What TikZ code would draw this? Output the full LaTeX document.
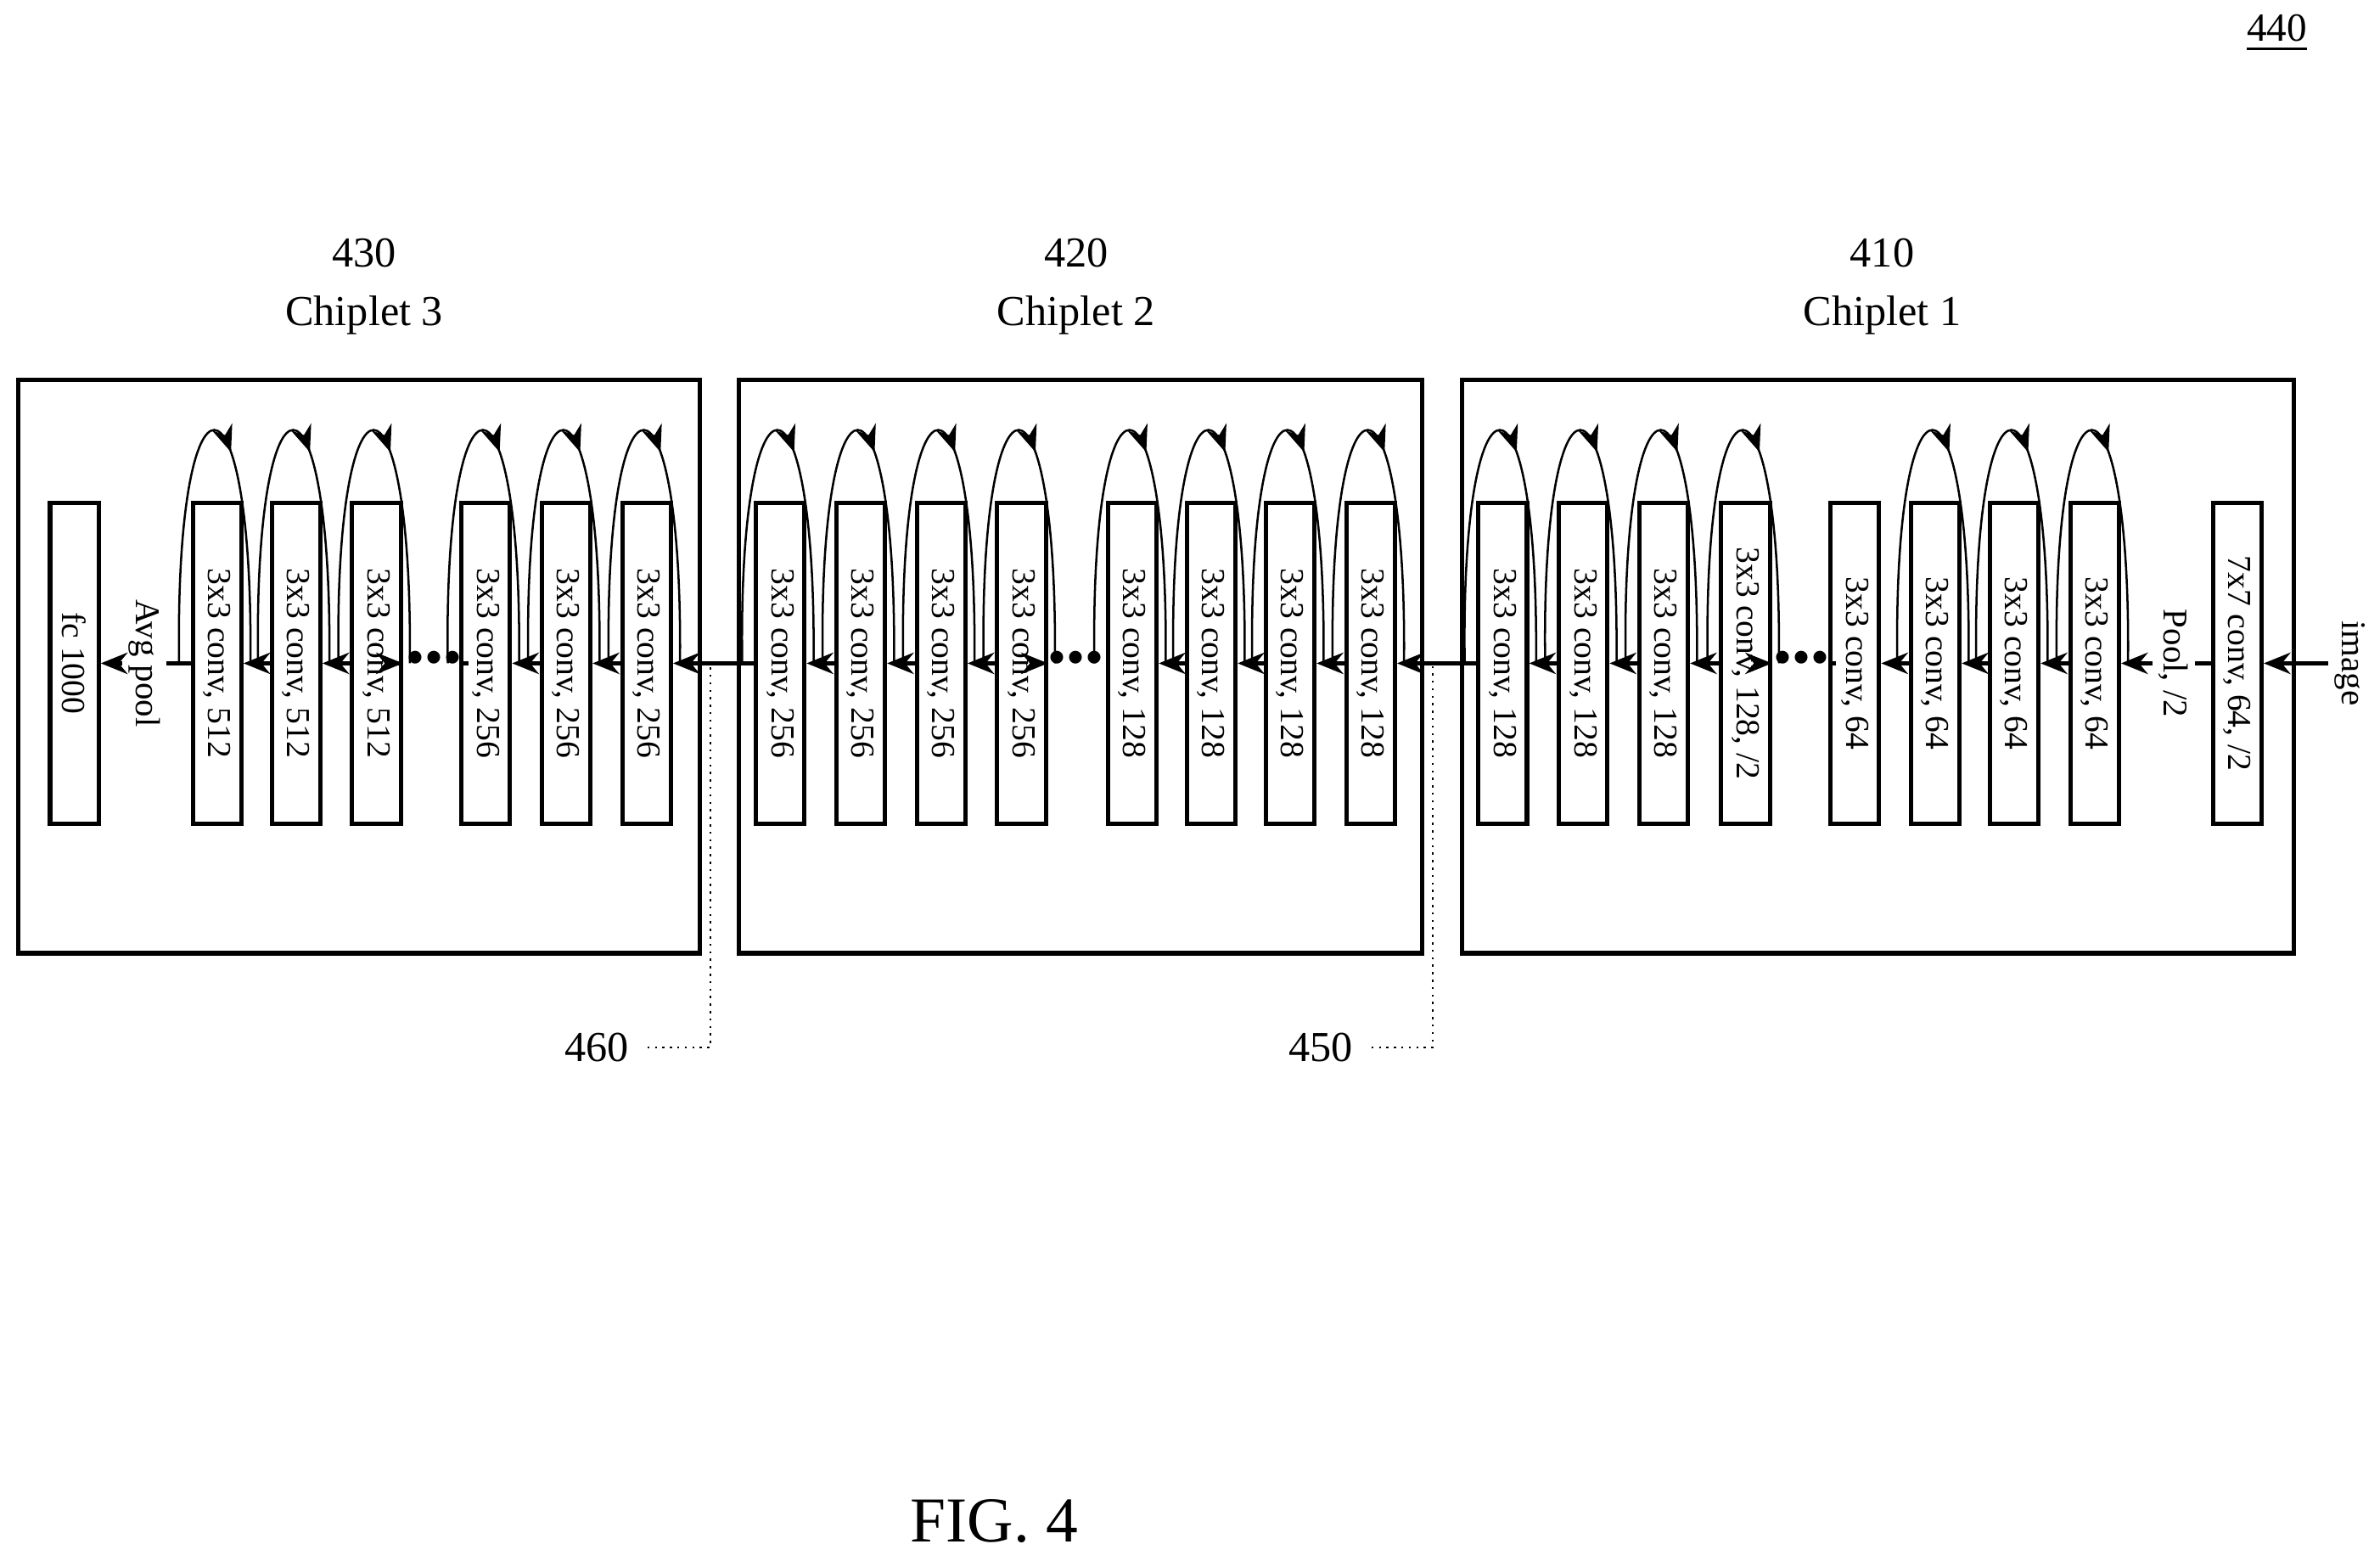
\documentclass[tikz,border=0pt]{standalone}
\usepackage{fontspec}
\setmainfont{Liberation Serif}
\usetikzlibrary{arrows.meta,calc,decorations.markings}

\tikzset{
  blk/.style={draw,thick,rotate=-90,minimum width=2.11cm,minimum height=0.32cm,inner sep=0pt,font=\fontsize{6.3}{7}\selectfont},
  chip/.style={draw,thick},
  lbl/.style={rotate=-90,inner sep=1pt,font=\fontsize{6.5}{7}\selectfont},
  flow/.style={-{Stealth[length=5pt,width=4pt]},thick},
  skip/.style={thin,decoration={markings,mark=at position 0.56 with {\arrow{Stealth[length=5pt,width=4pt]}}},postaction={decorate}},
  lead/.style={densely dotted,thin}
}

\begin{document}
\begin{tikzpicture}[x=0.01cm,y=-0.01cm]
  \useasboundingbox (0,0) rectangle (1568,1028);
  \node[font=\fontsize{7.5}{8}\selectfont] (ref) at (1500,22) {\underline{440}};

  % chiplet boxes
  \draw[chip] (12,250) rectangle (461,628);
  \draw[chip] (487,250) rectangle (937,628);
  \draw[chip] (963,250) rectangle (1511,628);
  \node[align=center,font=\fontsize{8}{11}\selectfont] (c3) at (240,189) {430\\Chiplet 3};
  \node[align=center,font=\fontsize{8}{11}\selectfont] (c2) at (709,189) {420\\Chiplet 2};
  \node[align=center,font=\fontsize{8}{11}\selectfont] (c1) at (1240,189) {410\\Chiplet 1};

  % layers
  \node[blk] (fc) at (49,437) {fc 1000};
  \foreach \x/\t/\n in {143/512/a1,195/512/a2,248/512/a3,320/256/a4,373/256/a5,426/256/a6,
      514/256/b1,567/256/b2,620/256/b3,673/256/b4,746/128/b5,798/128/b6,850/128/b7,903/128/b8,
      990/128/e1,1043/128/e2,1096/128/e3,1150/{128, /2}/e4,1222/64/e5,1275/64/e6,1327/64/e7,1380/64/e8}
    \node[blk] (\n) at (\x,437) {3x3 conv, \t};
  \node[blk] (first) at (1474,437) {7x7 conv, 64, /2};
  \node[lbl] (img) at (1548,437) {image};
  \node[lbl] (pool) at (1432,437) {Pool, /2};
  \node[lbl] (avg) at (95,437) {Avg pool};
  \node[inner sep=1pt] (d3) at (286,437) {\textbullet\textbullet\textbullet};
  \node[inner sep=1pt] (d2) at (709,437) {\textbullet\textbullet\textbullet};
  \node[inner sep=1pt] (d1) at (1187,437) {\textbullet\textbullet\textbullet};

  % main path
  \draw[flow] (img) -- (first);
  \draw[thick] (first) -- (pool);
  \draw[flow] (pool) -- (e8);
  \draw[flow] (e8) -- (e7);
  \draw[flow] (e7) -- (e6);
  \draw[flow] (e6) -- (e5);
  \draw[thick] (e5) -- (d1);
  \draw[flow] (d1) -- (e4);
  \draw[flow] (e4) -- (e3);
  \draw[flow] (e3) -- (e2);
  \draw[flow] (e2) -- (e1);
  \draw[flow] (e1) -- (b8);
  \draw[flow] (b8) -- (b7);
  \draw[flow] (b7) -- (b6);
  \draw[flow] (b6) -- (b5);
  \draw[thick] (b5) -- (d2);
  \draw[flow] (d2) -- (b4);
  \draw[flow] (b4) -- (b3);
  \draw[flow] (b3) -- (b2);
  \draw[flow] (b2) -- (b1);
  \draw[flow] (b1) -- (a6);
  \draw[flow] (a6) -- (a5);
  \draw[flow] (a5) -- (a4);
  \draw[thick] (a4) -- (d3);
  \draw[flow] (d3) -- (a3);
  \draw[flow] (a3) -- (a2);
  \draw[flow] (a2) -- (a1);
  \draw[thick] (a1) -- (avg);
  \draw[flow] (avg) -- (fc);

  % skip connections
  \foreach \n in {a1,a2,a3,a4,a5,a6,b1,b2,b3,b4,b5,b6,b7,b8,e1,e2,e3,e4,e6,e7,e8}
    \draw[skip] ($(\n)+(-25,0)$) .. controls ($(\n)+(-28,-205)$) and ($(\n)+(24,-205)$) .. ($(\n)+(22,0)$);

  % reference leaders
  \node[font=\fontsize{8}{9}\selectfont] (l460) at (393,690) {460};
  \node[font=\fontsize{8}{9}\selectfont] (l450) at (870,690) {450};
  \coordinate (g460) at (468,439);
  \coordinate (g450) at (944,439);
  \draw[lead] (l460.east) -| (g460);
  \draw[lead] (l450.east) -| (g450);

  \node[font=\fontsize{12}{14}\selectfont] (fig) at (655,1002) {FIG. 4};
\end{tikzpicture}
\end{document}
